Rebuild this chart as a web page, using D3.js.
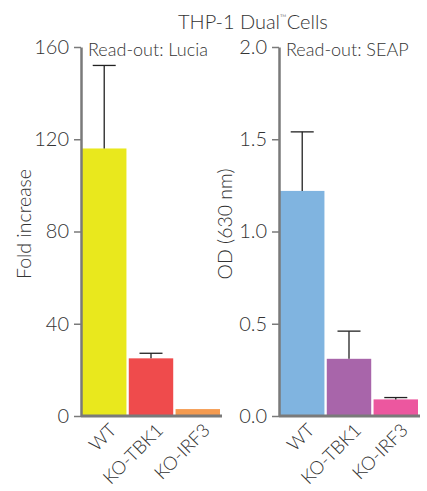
<!DOCTYPE html>
<html lang="en">
<head>
<meta charset="UTF-8">
<title>THP-1 Dual Cells</title>
<style>
  body { margin: 0; background: #fff; }
  svg text { font-family: Lato, "Open Sans", sans-serif; font-weight: 300; fill: #333; }
</style>
</head>
<body>
<svg id="chart" width="427" height="491"></svg>
<script src="https://d3js.org/d3.v7.min.js"></script>
<script>
// data
const categories = ["WT", "KO-TBK1", "KO-IRF3"];
const luciaValues = [116, 25, 3];
const luciaErrors = [152, 27.2, null];
const seapValues = [1.22, 0.31, 0.09];
const seapErrors = [1.54, 0.46, 0.10];
const luciaTicks = [0, 40, 80, 120, 160];
const seapTicks = [0, 0.5, 1.0, 1.5, 2.0];
const luciaColors = ["#e9e81d", "#ef4b4c", "#f59b50"];
const seapColors = ["#80b4e0", "#a865aa", "#ec579f"];

const svg = d3.select("#chart");
const plotTop = 47, plotBottom = 416;

// title
const title = svg.append("text")
    .attr("x", 178).attr("y", 29)
    .style("font-size", "20px");
title.append("tspan").text("THP-1 Dual");
title.append("tspan").text("™").style("font-size", "9px").attr("dy", -8);
title.append("tspan").text("Cells").attr("dy", 8);

function panel(opts) {
    const g = svg.append("g");
    const x = d3.scaleBand()
        .domain(categories)
        .range([opts.x0 + 1, opts.x1])
        .paddingInner(0.05)
        .paddingOuter(0);
    const y = d3.scaleLinear().domain(opts.domain).range([plotBottom, plotTop]);

    g.selectAll("rect.bar")
        .data(opts.values)
        .join("rect")
        .attr("class", "bar")
        .attr("x", (d, i) => x(categories[i]))
        .attr("width", x.bandwidth())
        .attr("y", d => y(d))
        .attr("height", d => y(0) - y(d))
        .attr("fill", (d, i) => opts.colors[i]);

    // error bars (skip where there is none)
    const errData = opts.values
        .map((v, i) => ({ v, e: opts.errors[i], c: categories[i] }))
        .filter(d => d.e != null);
    const err = g.selectAll("g.err")
        .data(errData)
        .join("g").attr("class", "err");
    err.append("line")
        .attr("x1", d => x(d.c) + x.bandwidth() / 2)
        .attr("x2", d => x(d.c) + x.bandwidth() / 2)
        .attr("y1", d => y(d.v)).attr("y2", d => y(d.e))
        .attr("stroke", "#222").attr("stroke-width", 1.3);
    err.append("line")
        .attr("x1", d => x(d.c) + x.bandwidth() / 2 - 11.5)
        .attr("x2", d => x(d.c) + x.bandwidth() / 2 + 11.5)
        .attr("y1", d => y(d.e)).attr("y2", d => y(d.e))
        .attr("stroke", "#222").attr("stroke-width", 1.3);

    // y axis
    const ya = g.append("g")
        .attr("transform", `translate(${opts.x0},0)`)
        .call(d3.axisLeft(y).tickValues(opts.ticks).tickFormat(opts.fmt).tickSize(7).tickSizeOuter(0));
    ya.select(".domain").attr("stroke", "#7a7a7a").attr("stroke-width", 2.5);
    ya.selectAll(".tick line").attr("stroke", "#7a7a7a").attr("stroke-width", 1.5);
    ya.selectAll(".tick text")
        .attr("x", -12)
        .style("font-family", "Lato, sans-serif").style("font-weight", 300)
        .style("font-size", "20px").attr("fill", "#333");

    // x axis baseline
    g.append("line")
        .attr("x1", opts.x0).attr("x2", opts.x1 + 2)
        .attr("y1", plotBottom).attr("y2", plotBottom)
        .attr("stroke", "#7a7a7a").attr("stroke-width", 3);

    // category labels
    g.selectAll("text.cat")
        .data(categories)
        .join("text").attr("class", "cat")
        .attr("text-anchor", "end")
        .attr("transform", d => `translate(${x(d) + x.bandwidth() / 2 + 4},${plotBottom + 6}) rotate(-45)`)
        .attr("dy", "0.72em")
        .style("font-size", "18.5px")
        .text(d => d);

    // y label
    g.append("text")
        .attr("transform", `translate(${opts.labelX},224) rotate(-90)`)
        .attr("text-anchor", "middle")
        .style("font-size", "19.5px")
        .text(opts.ylabel);

    // read-out
    g.append("text")
        .attr("x", opts.x0 + 7).attr("y", 56)
        .style("font-size", "18px")
        .text(opts.readout);
}

panel({
    x0: 81, x1: 220, domain: [0, 160], values: luciaValues, errors: luciaErrors,
    ticks: luciaTicks, fmt: d3.format("d"), colors: luciaColors,
    ylabel: "Fold increase", labelX: 31, readout: "Read-out: Lucia"
});
panel({
    x0: 279, x1: 418, domain: [0, 2], values: seapValues, errors: seapErrors,
    ticks: seapTicks, fmt: d3.format(".1f"), colors: seapColors,
    ylabel: "OD (630 nm)", labelX: 232, readout: "Read-out: SEAP"
});
</script>
</body>
</html>
